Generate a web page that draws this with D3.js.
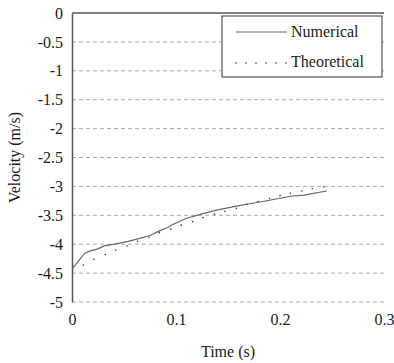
<!DOCTYPE html>
<html>
<head>
<meta charset="utf-8">
<script src="https://cdn.jsdelivr.net/npm/d3@7"></script>
<style>
  body { margin: 0; background: #fff; }
</style>
</head>
<body>
<div id="chart"></div>
<script>
// Velocity vs time: numerical curve and theoretical dots

const numTime = [0, 0.012, 0.017, 0.025, 0.031, 0.041, 0.054, 0.065, 0.075, 0.084, 0.092,
  0.097, 0.110, 0.126, 0.139, 0.158, 0.171, 0.190, 0.210, 0.223, 0.245];
const numVel = [-4.43, -4.16, -4.12, -4.08, -4.03, -4.00, -3.95, -3.90, -3.85, -3.77, -3.71,
  -3.66, -3.55, -3.47, -3.41, -3.34, -3.30, -3.24, -3.17, -3.15, -3.08];

const theoTime = [0.011, 0.021, 0.032, 0.042, 0.053, 0.063, 0.074, 0.084, 0.095, 0.105, 0.116,
  0.126, 0.137, 0.147, 0.158, 0.168, 0.179, 0.190, 0.200, 0.210, 0.221, 0.231, 0.242];
const theoVel = [-4.36, -4.26, -4.18, -4.10, -4.03, -3.95, -3.88, -3.80, -3.74, -3.67, -3.61,
  -3.54, -3.48, -3.43, -3.38, -3.31, -3.26, -3.21, -3.16, -3.12, -3.08, -3.04, -3.01];

const xTicks = [0, 0.1, 0.2, 0.3];
const yTicks = [0, -0.5, -1, -1.5, -2, -2.5, -3, -3.5, -4, -4.5, -5];
const seriesNames = ["Numerical", "Theoretical"];

const FONT = "'Liberation Serif', 'Times New Roman', 'DejaVu Serif', serif";

const W = 394, H = 363;
const margin = { top: 13, right: 10, bottom: 61, left: 72 };
const iw = W - margin.left - margin.right;
const ih = H - margin.top - margin.bottom;

const svg = d3.select("#chart").append("svg").attr("width", W).attr("height", H);
const g = svg.append("g").attr("transform", `translate(${margin.left},${margin.top})`);

const x = d3.scaleLinear().domain([0, 0.3]).range([0, iw]);
const y = d3.scaleLinear().domain([-5, 0]).range([ih, 0]);

// dashed grid
g.append("g")
  .selectAll("line")
  .data(yTicks.filter(d => d !== 0))
  .enter().append("line")
  .attr("x1", 0).attr("x2", iw)
  .attr("y1", d => y(d)).attr("y2", d => y(d))
  .attr("stroke", "#aaa")
  .attr("stroke-width", 1)
  .attr("stroke-dasharray", "4,3");

// top border
g.append("line")
  .attr("x1", 0).attr("x2", iw)
  .attr("y1", 0).attr("y2", 0)
  .attr("stroke", "#555").attr("stroke-width", 1.5);

// y axis
g.append("g")
  .call(d3.axisLeft(y).tickValues(yTicks).tickSize(0).tickPadding(9).tickFormat(d => String(d)))
  .call(a => a.select(".domain").attr("stroke", "#555").attr("stroke-width", 1.5))
  .selectAll("text")
  .style("font-family", FONT)
  .style("fill", "#1a1a1a")
  .style("font-size", "16px");

// x axis (labels only)
g.append("g")
  .attr("transform", `translate(0,${ih})`)
  .call(d3.axisBottom(x).tickValues(xTicks).tickSize(0).tickPadding(12).tickFormat(d => String(d)))
  .call(a => a.select(".domain").remove())
  .selectAll("text")
  .style("font-family", FONT)
  .style("fill", "#1a1a1a")
  .style("font-size", "16px");

// numerical line
const line = d3.line().x((d, i) => x(numTime[i])).y(d => y(d));
g.append("path")
  .datum(numVel)
  .attr("fill", "none")
  .attr("stroke", "#666")
  .attr("stroke-width", 1.2)
  .attr("d", line);

// theoretical dots
g.selectAll(".dot")
  .data(theoVel)
  .enter().append("circle")
  .attr("class", "dot")
  .attr("cx", (d, i) => x(theoTime[i]))
  .attr("cy", d => y(d))
  .attr("r", 0.8)
  .attr("fill", "#333");

// axis titles
svg.append("text")
  .attr("x", margin.left + iw / 2)
  .attr("y", 357)
  .attr("text-anchor", "middle")
  .style("font-family", FONT)
  .style("fill", "#1a1a1a")
  .style("font-size", "16px")
  .text("Time (s)");

svg.append("text")
  .attr("transform", `translate(20,${margin.top + ih / 2}) rotate(-90)`)
  .attr("text-anchor", "middle")
  .style("font-family", FONT)
  .style("fill", "#1a1a1a")
  .style("font-size", "16px")
  .text("Velocity (m/s)");

// legend
const lg = svg.append("g").attr("transform", "translate(222,16)");
lg.append("rect")
  .attr("width", 160).attr("height", 61)
  .attr("fill", "#fff").attr("stroke", "#333").attr("stroke-width", 1);
lg.append("line")
  .attr("x1", 14).attr("x2", 65).attr("y1", 16).attr("y2", 16)
  .attr("stroke", "#666").attr("stroke-width", 1.2);
lg.selectAll(".ldot")
  .data(d3.range(6))
  .enter().append("circle")
  .attr("cx", d => 14 + d * 10)
  .attr("cy", 47)
  .attr("r", 0.8)
  .attr("fill", "#333");
lg.selectAll(".ltxt")
  .data(seriesNames)
  .enter().append("text")
  .attr("x", 69)
  .attr("y", (d, i) => 21 + i * 30)
  .style("font-family", FONT)
  .style("fill", "#1a1a1a")
  .style("font-size", "16px")
  .text(d => d);
</script>
</body>
</html>
